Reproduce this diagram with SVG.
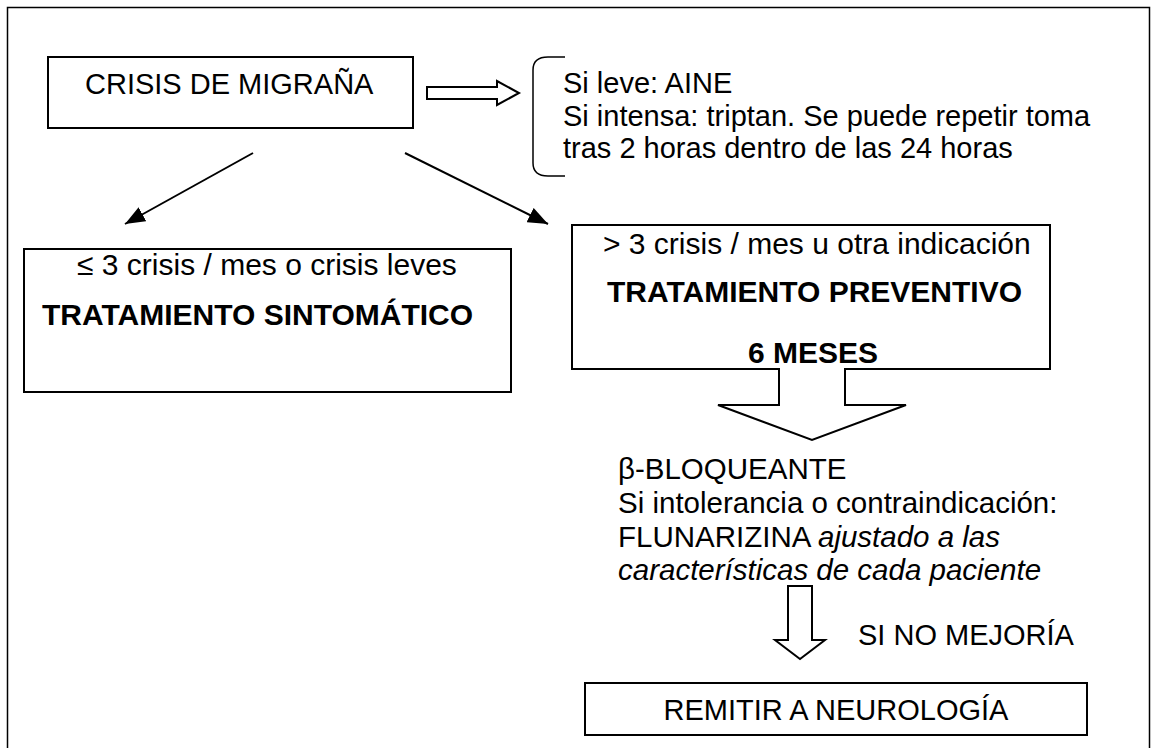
<svg xmlns="http://www.w3.org/2000/svg" width="1159" height="748" viewBox="0 0 1159 748">
<defs>
<style>
text{font-family:"Liberation Sans",Arial,sans-serif;font-size:29px;fill:#000}
.b{font-weight:bold}
.i{font-style:italic}
.bx{font-size:30px}
.fm{font-size:29.5px}
.box{fill:#fff;stroke:#000;stroke-width:2}
.ln{fill:none;stroke:#000;stroke-width:2}
.hol{fill:#fff;stroke:#000;stroke-width:2;stroke-linejoin:miter}
</style>
<marker id="ah" viewBox="0 0 20 16" refX="20" refY="8" markerWidth="20" markerHeight="16" orient="auto" markerUnits="userSpaceOnUse">
<path d="M0,0 L20,8 L0,16 z" fill="#000"/>
</marker>
</defs>
<rect x="0" y="0" width="1159" height="748" fill="#fff"/>
<rect x="7.5" y="7.5" width="1142" height="760" fill="none" stroke="#000" stroke-width="1.5"/>

<g id="crisis">
<rect class="box" x="48" y="57" width="365" height="71"/>
<text x="85" y="94">CRISIS DE MIGRAÑA</text>
</g>

<g id="agudo">
<path class="ln" style="stroke-width:1.5" d="M565,57 L548,57 Q533,57 533,70 L533,163 Q533,176 548,176 L565,176"/>
<text x="563" y="93">Si leve: AINE</text>
<text x="563" y="126">Si intensa: triptan. Se puede repetir toma</text>
<text x="563" y="158">tras 2 horas dentro de las 24 horas</text>
</g>

<g id="sintomatico">
<rect class="box" x="24" y="249" width="487" height="143"/>
<text class="bx" x="77" y="275">≤ 3 crisis / mes o crisis leves</text>
<text class="b bx" x="42" y="325">TRATAMIENTO SINTOMÁTICO</text>
</g>

<g id="preventivo">
<rect class="box" x="572" y="225" width="478" height="144"/>
<text class="bx" x="603" y="254">&gt; 3 crisis / mes u otra indicación</text>
<text class="b bx" x="607" y="302">TRATAMIENTO PREVENTIVO</text>
<text class="b bx" x="748" y="363">6 MESES</text>
</g>

<g id="farmacos">
<text class="fm" x="618" y="479">β-BLOQUEANTE</text>
<text class="fm" x="618" y="513">Si intolerancia o contraindicación:</text>
<text class="fm" x="618" y="547">FLUNARIZINA <tspan class="i">ajustado a las</tspan></text>
<text class="fm i" x="618" y="580">características de cada paciente</text>
</g>

<g id="no-mejoria">
<text x="858" y="645">SI NO MEJORÍA</text>
</g>

<g id="neurologia">
<rect class="box" x="585" y="683" width="502" height="52"/>
<text x="836" y="720" text-anchor="middle">REMITIR A NEUROLOGÍA</text>
</g>

<g id="connectors">
<path class="hol" d="M427,87 L497,87 L497,81 L519,93 L497,105 L497,99 L427,99 Z"/>
<line class="ln" x1="253" y1="153" x2="125" y2="224" marker-end="url(#ah)"/>
<line class="ln" x1="405" y1="153" x2="548" y2="224" marker-end="url(#ah)"/>
<path class="hol" d="M779,368 L779,405 L718,405 L812,440 L906,405 L845,405 L845,368"/>
<rect x="780" y="366" width="64" height="4" fill="#fff"/>
<path class="hol" d="M788,586 L788,640 L775,640 L800,659 L825,640 L812,640 L812,586 Z"/>
</g>
</svg>
